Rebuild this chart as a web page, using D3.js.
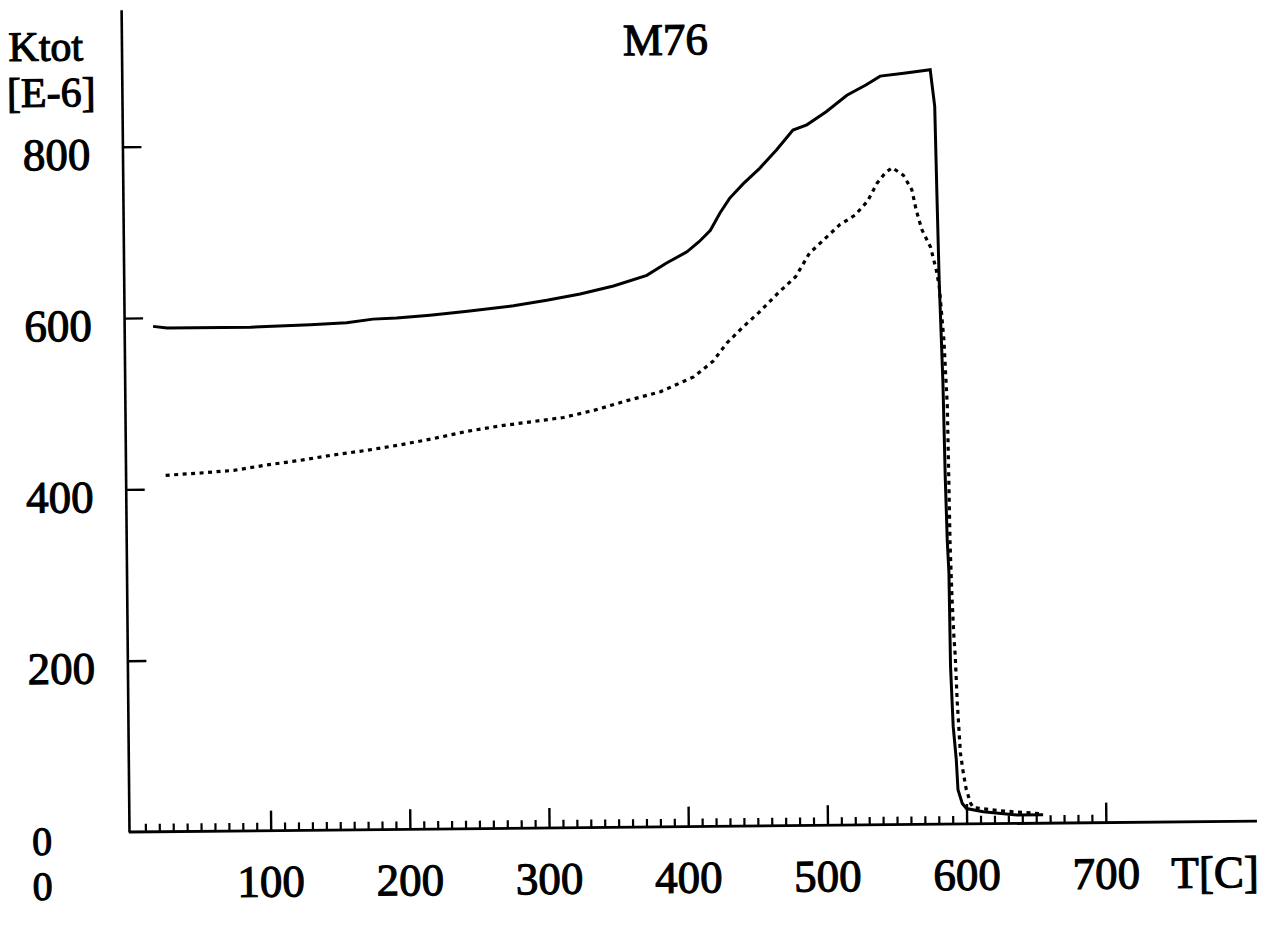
<!DOCTYPE html>
<html>
<head>
<meta charset="utf-8">
<script src="https://cdn.jsdelivr.net/npm/d3@7"></script>
<style>
  html, body { margin: 0; padding: 0; background: #fff; }
  svg { display: block; }
  text { font-family: "Liberation Serif", "Times New Roman", serif; fill: #000; }
</style>
</head>
<body>
<svg id="chart" width="1264" height="940"></svg>
<script>
// ---- data ----
const title = "M76";
const yLabelTop = ["Ktot", "[E-6]"];
const xUnitLabel = "T[C]";
const yTickValues = [0, 200, 400, 600, 800];
const xMajorTicks = [100, 200, 300, 400, 500, 600, 700];
const xLabelValues = [0, 100, 200, 300, 400, 500, 600, 700];

// solid curve (heating)
const solidT = [19, 29, 89, 132, 158, 177, 194, 218, 245, 278, 302, 326, 350, 374, 388, 403, 412, 420, 427, 434, 444, 456, 468, 480, 490, 504, 519, 533, 543, 560, 579, 582, 583, 584, 586, 587, 588, 589, 589.5, 591, 593, 594, 597, 600, 612, 636, 655];
const solidK = [590, 588, 588, 590, 592, 596, 597, 600, 604, 610, 616, 623, 632, 644, 658, 671, 683, 696, 716, 733, 750, 768, 789, 812, 818, 833, 852, 864, 874, 877, 881, 838, 733, 635, 515, 406, 332, 293, 184, 114, 75, 40, 24, 18, 14, 10, 10];

// dotted curve
const dotT = [27, 49, 76, 100, 124, 148, 172, 196, 220, 244, 268, 313, 335, 359, 383, 407, 421, 431, 443, 454, 467, 481, 491, 505, 513, 524, 533, 540, 546, 551, 559, 565, 568, 572, 578, 582, 584, 587, 589, 589.5, 590, 591, 592, 593, 594, 596, 598, 600, 603, 605, 624, 655];
const dotK = [416, 418, 421, 427, 432, 438, 443, 449, 456, 464, 470, 479, 487, 498, 508, 525, 543, 564, 583, 599, 620, 641, 668, 689, 701, 712, 728, 749, 761, 767, 758, 741, 717, 694, 674, 647, 628, 565, 487, 410, 328, 266, 223, 195, 145, 83, 59, 40, 24, 19, 15, 11];

// ---- layout ----
const svg = d3.select("#chart");
const g = svg.append("g").attr("transform", "rotate(-0.55, 129, 832)");

const x = d3.scaleLinear().domain([0, 800]).range([131.5, 1245.1]);
const y = d3.scaleLinear().domain([0, 960]).range([832, 9.7]);

// y axis
const yAxis = d3.axisRight(y).tickValues(yTickValues.filter(v => v > 0))
  .tickSize(19).tickSizeOuter(0).tickFormat("");
const yg = g.append("g").attr("transform", "translate(129,0)").call(yAxis);
yg.select(".domain").attr("stroke", "#000").attr("stroke-width", 2.6);
yg.selectAll(".tick line").attr("stroke", "#000").attr("stroke-width", 2.4);

// x axis minor ticks
const minorTicks = d3.range(10, 701, 10).filter(v => v % 100 !== 0);
const xMinor = d3.axisBottom(x).tickValues(minorTicks).tickSize(-8).tickSizeOuter(0).tickFormat("");
const xgm = g.append("g").attr("transform", "translate(0,832)").call(xMinor);
xgm.select(".domain").remove();
xgm.selectAll(".tick line").attr("stroke", "#000").attr("stroke-width", 2.2);

const xMajor = d3.axisBottom(x).tickValues(xMajorTicks).tickSize(-20).tickSizeOuter(0).tickFormat("");
const xgM = g.append("g").attr("transform", "translate(0,832)").call(xMajor);
xgM.select(".domain").remove();
xgM.selectAll(".tick line").attr("stroke", "#000").attr("stroke-width", 2.4);

// x axis baseline
g.append("line").attr("x1", 129).attr("x2", 1257).attr("y1", 832).attr("y2", 832)
  .attr("stroke", "#000").attr("stroke-width", 2.8);

// curves
const line = d3.line().x(d => x(d[0])).y(d => y(d[1])).curve(d3.curveLinear);
const solidData = solidT.map((t, i) => [t, solidK[i]]);
const dotData = dotT.map((t, i) => [t, dotK[i]]);

g.append("path").datum(dotData).attr("d", line)
  .attr("fill", "none").attr("stroke", "#000").attr("stroke-width", 3.2)
  .attr("stroke-dasharray", "4,4.5").attr("stroke-linejoin", "round");

g.append("path").datum(solidData).attr("d", line)
  .attr("fill", "none").attr("stroke", "#000").attr("stroke-width", 3)
  .attr("stroke-linejoin", "miter");

// texts
function txt(s, tx, ty, anchor, size) {
  return g.append("text").attr("x", tx).attr("y", ty).attr("text-anchor", anchor || "middle")
    .attr("font-size", size || 45).attr("stroke", "#000").attr("stroke-width", 1.1).text(s);
}
txt(title, 673, 60);
txt(yLabelTop[0], 16, 60, "start", 42);
txt(yLabelTop[1], 14, 106, "start", 42);

yTickValues.forEach(v => {
  if (v === 0) txt(String(v), 42, y(v) + 22, "middle", 40);
  else txt(String(v), 63, y(v) + 22.5);
});

xLabelValues.forEach(v => {
  if (v === 0) txt("0", 42, 899, "middle", 40);
  else txt(String(v), x(v), 898);
});
txt(xUnitLabel, 1171, 898, "start");
</script>
</body>
</html>
